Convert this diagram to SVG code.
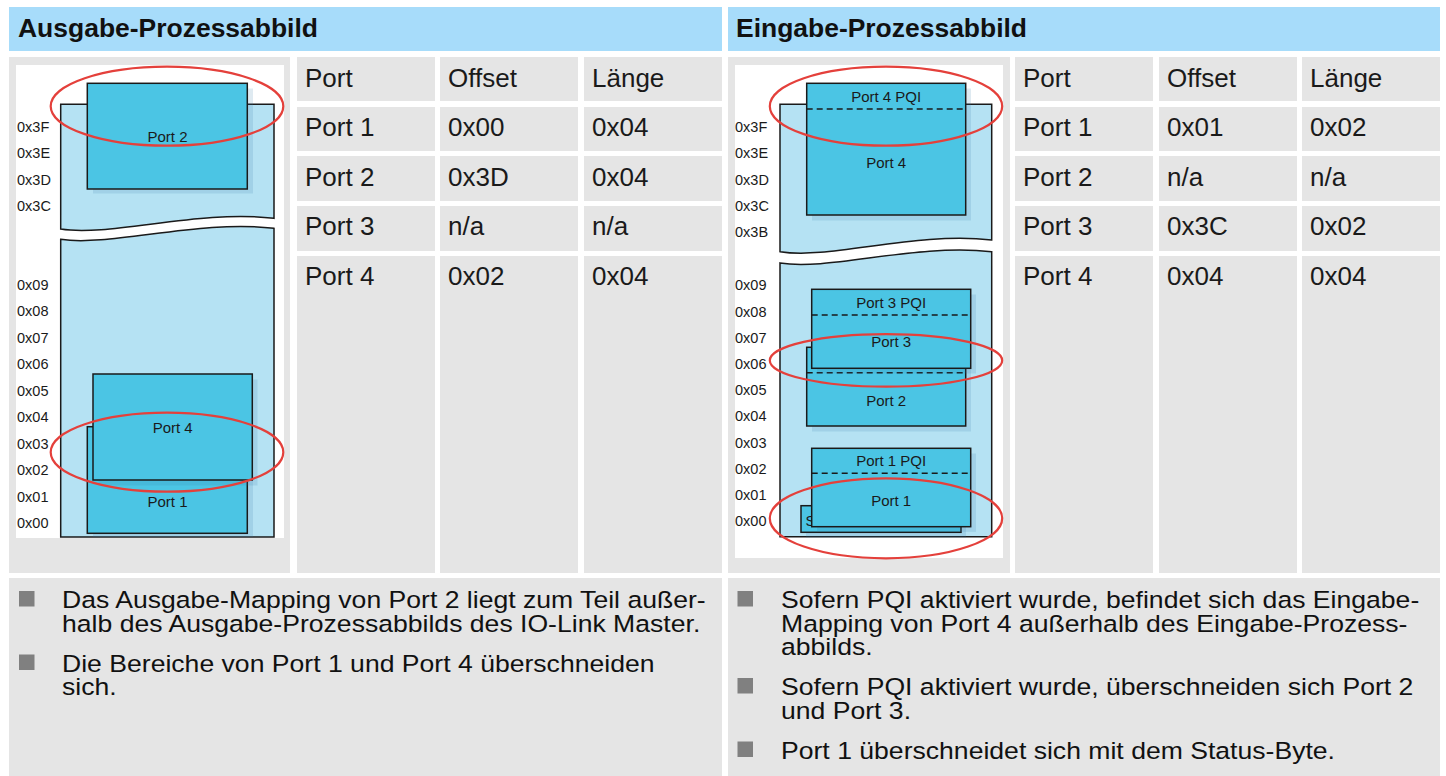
<svg xmlns="http://www.w3.org/2000/svg" width="1446" height="776" viewBox="0 0 1446 776">
<style>
.hdr{fill:#a7dcfa}
.cell{fill:#e5e5e5}
.ht{font-family:"Liberation Sans",Arial,sans-serif;font-weight:bold;font-size:25.5px;fill:#111}
.tt{font-family:"Liberation Sans",Arial,sans-serif;font-size:26px;fill:#1a1a1a}
.bt{font-family:"Liberation Sans",Arial,sans-serif;font-size:23.5px;fill:#111}
.ad{font-family:"Liberation Sans",Arial,sans-serif;font-size:14.5px;fill:#1a1a1a}
.pl{font-family:"Liberation Sans",Arial,sans-serif;font-size:15px;fill:#1a1a1a;text-anchor:middle}
.blk{fill:#b5e2f3;stroke:#1a1a1a;stroke-width:1.5}
.port{fill:#4bc5e4;stroke:#1a1a1a;stroke-width:1.5}
.sh{fill:#3a7fa8;opacity:0.16}
.dash{stroke:#1a1a1a;stroke-width:1.5;stroke-dasharray:6 4;fill:none}
.ell{fill:none;stroke:#e4403b;stroke-width:2.2}
.bul{fill:#808080}
</style>
<rect width="1446" height="776" fill="#fff"/>

<!-- headers -->
<g id="header-left"><rect class="hdr" x="9" y="7" width="713" height="44"/><text class="ht" x="18" y="37" textLength="300" lengthAdjust="spacingAndGlyphs">Ausgabe-Prozessabbild</text></g>
<g id="header-right"><rect class="hdr" x="728" y="7" width="712" height="44"/><text class="ht" x="736" y="37" textLength="291" lengthAdjust="spacingAndGlyphs">Eingabe-Prozessabbild</text></g>

<!-- left table -->
<g id="table-left">
<rect class="cell" x="9" y="57" width="281" height="516"/>
<rect class="cell" x="297" y="57" width="138" height="44"/><rect class="cell" x="440" y="57" width="138" height="44"/><rect class="cell" x="584" y="57" width="138" height="44"/>
<rect class="cell" x="297" y="107" width="138" height="44"/><rect class="cell" x="440" y="107" width="138" height="44"/><rect class="cell" x="584" y="107" width="138" height="44"/>
<rect class="cell" x="297" y="156" width="138" height="45"/><rect class="cell" x="440" y="156" width="138" height="45"/><rect class="cell" x="584" y="156" width="138" height="45"/>
<rect class="cell" x="297" y="206" width="138" height="45"/><rect class="cell" x="440" y="206" width="138" height="45"/><rect class="cell" x="584" y="206" width="138" height="45"/>
<rect class="cell" x="297" y="256" width="138" height="317"/><rect class="cell" x="440" y="256" width="138" height="317"/><rect class="cell" x="584" y="256" width="138" height="317"/>
<text class="tt" x="305" y="87">Port</text><text class="tt" x="448" y="87">Offset</text><text class="tt" x="592" y="87">Länge</text>
<text class="tt" x="305" y="136">Port 1</text><text class="tt" x="448" y="136">0x00</text><text class="tt" x="592" y="136">0x04</text>
<text class="tt" x="305" y="186">Port 2</text><text class="tt" x="448" y="186">0x3D</text><text class="tt" x="592" y="186">0x04</text>
<text class="tt" x="305" y="235">Port 3</text><text class="tt" x="448" y="235">n/a</text><text class="tt" x="592" y="235">n/a</text>
<text class="tt" x="305" y="285">Port 4</text><text class="tt" x="448" y="285">0x02</text><text class="tt" x="592" y="285">0x04</text>
</g>

<!-- right table -->
<g id="table-right">
<rect class="cell" x="728" y="57" width="282" height="516"/>
<rect class="cell" x="1015" y="57" width="138" height="44"/><rect class="cell" x="1159" y="57" width="138" height="44"/><rect class="cell" x="1302" y="57" width="138" height="44"/>
<rect class="cell" x="1015" y="107" width="138" height="44"/><rect class="cell" x="1159" y="107" width="138" height="44"/><rect class="cell" x="1302" y="107" width="138" height="44"/>
<rect class="cell" x="1015" y="156" width="138" height="45"/><rect class="cell" x="1159" y="156" width="138" height="45"/><rect class="cell" x="1302" y="156" width="138" height="45"/>
<rect class="cell" x="1015" y="206" width="138" height="45"/><rect class="cell" x="1159" y="206" width="138" height="45"/><rect class="cell" x="1302" y="206" width="138" height="45"/>
<rect class="cell" x="1015" y="256" width="138" height="317"/><rect class="cell" x="1159" y="256" width="138" height="317"/><rect class="cell" x="1302" y="256" width="138" height="317"/>
<text class="tt" x="1023" y="87">Port</text><text class="tt" x="1167" y="87">Offset</text><text class="tt" x="1310" y="87">Länge</text>
<text class="tt" x="1023" y="136">Port 1</text><text class="tt" x="1167" y="136">0x01</text><text class="tt" x="1310" y="136">0x02</text>
<text class="tt" x="1023" y="186">Port 2</text><text class="tt" x="1167" y="186">n/a</text><text class="tt" x="1310" y="186">n/a</text>
<text class="tt" x="1023" y="235">Port 3</text><text class="tt" x="1167" y="235">0x3C</text><text class="tt" x="1310" y="235">0x02</text>
<text class="tt" x="1023" y="285">Port 4</text><text class="tt" x="1167" y="285">0x04</text><text class="tt" x="1310" y="285">0x04</text>
</g>

<!-- left diagram -->
<g id="diagram-left">
<rect x="16" y="65" width="268" height="473" fill="#fff"/>
<path class="blk" d="M60.7,104.3 H274 V218.3 C200,209 110,237 60.7,229 Z"/>
<path class="blk" d="M60.7,239.3 C110,247 200,219 274,228.3 V537 H60.7 Z"/>
<g class="ad">
<text x="17" y="131.5">0x3F</text><text x="17" y="158">0x3E</text><text x="17" y="184.5">0x3D</text><text x="17" y="211">0x3C</text>
<text x="17" y="289.5">0x09</text><text x="17" y="316">0x08</text><text x="17" y="342.5">0x07</text><text x="17" y="369">0x06</text><text x="17" y="395.5">0x05</text>
<text x="17" y="422">0x04</text><text x="17" y="448.5">0x03</text><text x="17" y="475">0x02</text><text x="17" y="501.5">0x01</text><text x="17" y="528">0x00</text>
</g>
<g id="l-port2"><rect class="sh" x="93" y="88.5" width="160" height="105"/><rect class="port" x="87.3" y="83.3" width="160" height="105.7"/><text class="pl" x="167.5" y="142">Port 2</text></g>
<g id="l-port1"><rect class="sh" x="93" y="432" width="160" height="105"/><rect class="port" x="87.3" y="426.7" width="160" height="106.6"/><text class="pl" x="167.5" y="507">Port 1</text></g>
<g id="l-port4"><rect class="sh" x="98.5" y="379.5" width="159" height="106"/><rect class="port" x="93" y="374" width="159.3" height="106"/><text class="pl" x="172.7" y="432.5">Port 4</text></g>
<ellipse class="ell" cx="167" cy="106.2" rx="116.3" ry="39.5"/>
<ellipse class="ell" cx="167" cy="452.2" rx="116.3" ry="39.5"/>
</g>

<!-- right diagram -->
<g id="diagram-right">
<rect x="735" y="65" width="268" height="493" fill="#fff"/>
<path class="blk" d="M780,104.3 H991.7 V240 C915,231 830,260 780,251.7 Z"/>
<path class="blk" d="M780,263 C830,271 915,243 991.7,251.7 V536.7 H780 Z"/>
<g class="ad">
<text x="735" y="131.5">0x3F</text><text x="735" y="157.5">0x3E</text><text x="735" y="184.5">0x3D</text><text x="735" y="210.5">0x3C</text><text x="735" y="236.5">0x3B</text>
<text x="735" y="290.3">0x09</text><text x="735" y="316.5">0x08</text><text x="735" y="342.7">0x07</text><text x="735" y="368.9">0x06</text><text x="735" y="395.1">0x05</text>
<text x="735" y="421.3">0x04</text><text x="735" y="447.5">0x03</text><text x="735" y="473.7">0x02</text><text x="735" y="499.9">0x01</text><text x="735" y="526.2">0x00</text>
</g>
<g id="r-port4"><rect class="sh" x="812" y="88.5" width="159" height="132"/><rect class="port" x="806.7" y="83.3" width="159" height="131.7"/><line class="dash" x1="806.7" y1="109" x2="965.7" y2="109"/><text class="pl" x="886.2" y="102">Port 4 PQI</text><text class="pl" x="886.2" y="168">Port 4</text></g>
<g id="r-port2"><rect class="sh" x="812" y="352.5" width="159" height="79"/><rect class="port" x="806.7" y="347.3" width="159" height="78.7"/><line class="dash" x1="806.7" y1="372.7" x2="965.7" y2="372.7"/><text class="pl" x="886.2" y="405.5">Port 2</text></g>
<g id="r-port3"><rect class="sh" x="817" y="294.5" width="159" height="79"/><rect class="port" x="811.7" y="289.3" width="159" height="79"/><line class="dash" x1="811.7" y1="315" x2="970.7" y2="315"/><text class="pl" x="891.2" y="307.5">Port 3 PQI</text><text class="pl" x="891.2" y="347">Port 3</text></g>
<g id="r-status"><rect class="sh" x="806" y="511" width="160" height="26.6"/><rect class="port" x="801" y="505.7" width="160" height="26.6"/><text class="ad" x="805.5" y="525.5">S</text></g>
<g id="r-port1"><rect class="sh" x="817" y="453.5" width="159" height="78.4"/><rect class="port" x="811.7" y="448.3" width="159" height="78.4"/><line class="dash" x1="811.7" y1="473.3" x2="970.7" y2="473.3"/><text class="pl" x="891.2" y="466">Port 1 PQI</text><text class="pl" x="891.2" y="505.5">Port 1</text></g>
<ellipse class="ell" cx="886" cy="106.2" rx="116.2" ry="39.5"/>
<ellipse class="ell" cx="886" cy="360.4" rx="116.2" ry="26.3"/>
<ellipse class="ell" cx="886" cy="518.3" rx="116.2" ry="40"/>
</g>

<!-- bottom notes -->
<g id="notes-left">
<rect class="cell" x="9" y="578" width="713" height="198"/>
<rect class="bul" x="19" y="591" width="15.5" height="15.5"/>
<rect class="bul" x="19" y="654.5" width="15.5" height="15.5"/>
<g transform="translate(62 0) scale(1.132 1)">
<text class="bt" x="0" y="608.5">Das Ausgabe-Mapping von Port 2 liegt zum Teil außer-</text>
<text class="bt" x="0" y="632">halb des Ausgabe-Prozessabbilds des IO-Link Master.</text>
<text class="bt" x="0" y="672">Die Bereiche von Port 1 und Port 4 überschneiden</text>
<text class="bt" x="0" y="695.5">sich.</text>
</g>
</g>
<g id="notes-right">
<rect class="cell" x="728" y="578" width="712" height="198"/>
<rect class="bul" x="737.5" y="591" width="15.5" height="15.5"/>
<rect class="bul" x="737.5" y="678" width="15.5" height="15.5"/>
<rect class="bul" x="737.5" y="741.5" width="15.5" height="15.5"/>
<g transform="translate(781 0) scale(1.132 1)">
<text class="bt" x="0" y="608.5">Sofern PQI aktiviert wurde, befindet sich das Eingabe-</text>
<text class="bt" x="0" y="632">Mapping von Port 4 außerhalb des Eingabe-Prozess-</text>
<text class="bt" x="0" y="655.5">abbilds.</text>
<text class="bt" x="0" y="695.5">Sofern PQI aktiviert wurde, überschneiden sich Port 2</text>
<text class="bt" x="0" y="719">und Port 3.</text>
<text class="bt" x="0" y="759">Port 1 überschneidet sich mit dem Status-Byte.</text>
</g>
</g>
</svg>
